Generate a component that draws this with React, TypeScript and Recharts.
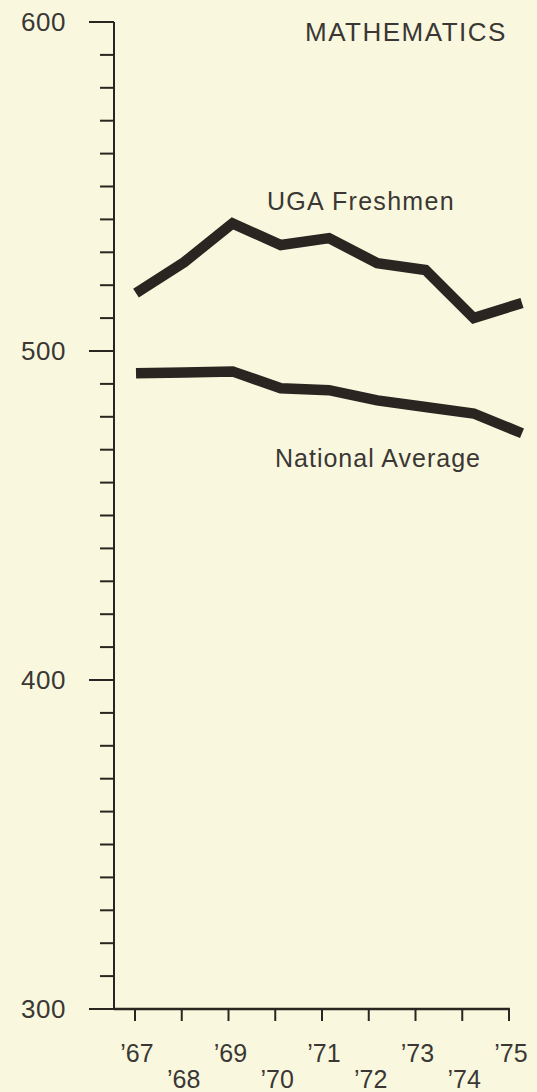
import React from 'react';
import { LineChart, Line, XAxis, YAxis, ReferenceLine, Customized } from 'recharts';

const years = [67, 68, 69, 70, 71, 72, 73, 74, 75];
const yearLabels = ['\u201967', '\u201968', '\u201969', '\u201970', '\u201971', '\u201972', '\u201973', '\u201974', '\u201975'];
const ugaFreshmen = [517.6, 527, 538.8, 532.2, 534.3, 526.7, 524.6, 510, 514.6];
const nationalAverage = [493.2, 493.5, 493.8, 488.7, 488.1, 485, 483, 481, 475];
const yTicks = [300, 310, 320, 330, 340, 350, 360, 370, 380, 390, 400, 410, 420, 430, 440, 450, 460, 470, 480, 490, 500, 510, 520, 530, 540, 550, 560, 570, 580, 590, 600];
const majorYTicks = [300, 400, 500, 600];

const data = years.map((y, i) => ({ year: y, uga: ugaFreshmen[i], nat: nationalAverage[i] }));

const BG = '#f9f8de';
const INK = '#2a2520';
const TEXT = '#3a3734';
const FONT = '"Liberation Sans", Arial, Helvetica, sans-serif';

const YTick = (props: any) => {
  const { x, y, payload } = props;
  const major = majorYTicks.includes(payload.value);
  const len = major ? 25 : 14;
  return (
    <g>
      <line x1={x - len} y1={y} x2={x} y2={y} stroke={INK} strokeWidth={2} />
      {major && (
        <text x={x - 48} y={y + 9} textAnchor="end" fontSize={26} letterSpacing={0.5} fill={TEXT} fontFamily={FONT}>
          {String(payload.value)}
        </text>
      )}
    </g>
  );
};

const XTick = (props: any) => {
  const { x, y, payload } = props;
  const idx = years.indexOf(payload.value);
  const top = idx % 2 === 0;
  return (
    <text x={x + 2} y={y + (top ? 41 : 67)} textAnchor="middle" fontSize={25} fill={TEXT} fontFamily={FONT}>
      {yearLabels[idx]}
    </text>
  );
};

const Annotations = () => (
  <g fontFamily={FONT} fill={TEXT}>
    <text x={305} y={41} fontSize={26} letterSpacing={1.5}>MATHEMATICS</text>
    <text x={267} y={210} fontSize={25} letterSpacing={1.3}>UGA Freshmen</text>
    <text x={275} y={467} fontSize={25} letterSpacing={1}>National Average</text>
  </g>
);

export default function App() {
  return (
    <div style={{ position: 'fixed', left: 0, top: 0, width: 537, height: 1092, background: BG }}>
      <LineChart width={537} height={1092} data={data} margin={{ top: 22, right: 15, bottom: 0, left: 0 }}>
        <XAxis
          xAxisId="ticks"
          dataKey="year"
          type="number"
          domain={[66.5508, 75.2778]}
          ticks={years}
          interval={0}
          height={83}
          tickSize={12}
          tickMargin={0}
          axisLine={false}
          tickLine={{ stroke: INK, strokeWidth: 2 }}
          tick={<XTick />}
        />
        <XAxis xAxisId="line" dataKey="year" type="number" domain={[66.544, 75]} orientation="top" height={0} hide />
        <YAxis
          type="number"
          domain={[300, 600]}
          ticks={yTicks}
          interval={0}
          width={114}
          tickSize={0}
          tickMargin={0}
          tickLine={false}
          axisLine={{ stroke: INK, strokeWidth: 2 }}
          tick={<YTick />}
        />
        <ReferenceLine
          xAxisId="ticks"
          segment={[{ x: 66.5508, y: 300 }, { x: 75.02, y: 300 }]}
          stroke={INK}
          strokeWidth={2.5}
        />
        <Line
          xAxisId="line"
          dataKey="uga"
          stroke={INK}
          strokeWidth={10.5}
          dot={false}
          strokeLinecap="butt"
          strokeLinejoin="miter"
          isAnimationActive={false}
        />
        <Line
          xAxisId="line"
          dataKey="nat"
          stroke={INK}
          strokeWidth={10.5}
          dot={false}
          strokeLinecap="butt"
          strokeLinejoin="miter"
          isAnimationActive={false}
        />
        <Customized component={Annotations} />
      </LineChart>
    </div>
  );
}
